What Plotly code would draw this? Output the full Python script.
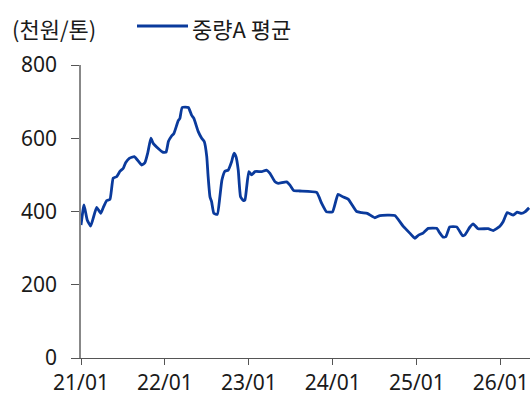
import plotly.graph_objects as go

# ---- data ----
dates = [
    "2021-01-01", "2021-01-14", "2021-01-28", "2021-02-12", "2021-03-10", "2021-03-28",
    "2021-04-08", "2021-04-23", "2021-05-07", "2021-05-21", "2021-06-05", "2021-06-20",
    "2021-07-04", "2021-07-14", "2021-07-30", "2021-08-21", "2021-09-22", "2021-10-06",
    "2021-10-18", "2021-11-01", "2021-11-11", "2021-12-03", "2021-12-22", "2022-01-06",
    "2022-01-16", "2022-01-30", "2022-02-09", "2022-02-28", "2022-03-07", "2022-03-17",
    "2022-04-13", "2022-04-27", "2022-05-07", "2022-05-26", "2022-06-10", "2022-06-21",
    "2022-07-02", "2022-07-08", "2022-07-16", "2022-07-23", "2022-08-02", "2022-08-17",
    "2022-08-28", "2022-09-06", "2022-09-19", "2022-10-03", "2022-10-18", "2022-10-28",
    "2022-11-06", "2022-11-16", "2022-11-26", "2022-12-08", "2022-12-15", "2022-12-22",
    "2023-01-01", "2023-01-13", "2023-01-28", "2023-02-26", "2023-03-19", "2023-04-03",
    "2023-04-25", "2023-05-09", "2023-06-14", "2023-06-29", "2023-07-16", "2023-08-11",
    "2023-10-23", "2023-11-14", "2023-12-05", "2023-12-31", "2024-01-24", "2024-02-14",
    "2024-03-08", "2024-04-14", "2024-05-06", "2024-05-30", "2024-07-02", "2024-07-24",
    "2024-09-27", "2024-11-02", "2024-12-01", "2024-12-23", "2025-01-07", "2025-01-28",
    "2025-02-19", "2025-03-28", "2025-04-11", "2025-04-25", "2025-05-07", "2025-05-24",
    "2025-06-23", "2025-07-19", "2025-07-29", "2025-08-19", "2025-09-03", "2025-09-24",
    "2025-11-07", "2025-11-29", "2025-12-28", "2026-01-11", "2026-01-29", "2026-02-24",
    "2026-03-13", "2026-04-01", "2026-04-16", "2026-05-04",
]
avg_price = [
    363, 418, 377, 360, 411, 395,
    411, 430, 433, 491, 495, 510,
    518, 533, 545, 550, 527, 533,
    559, 600, 586, 572, 562, 562,
    591, 606, 613, 648, 654, 684,
    684, 663, 654, 618, 600, 591,
    550, 495, 440, 427, 395, 392,
    440, 486, 510, 513, 536, 559,
    550, 513, 440, 430, 431, 463,
    509, 500, 509, 509, 513, 504,
    481, 477, 481, 472, 457, 456,
    452, 422, 399, 399, 447, 440,
    434, 400, 397, 395, 383, 389,
    389, 360, 341, 327, 335, 341,
    354, 354, 341, 330, 331, 358,
    358, 334, 336, 357, 366, 353,
    353, 348, 360, 372, 397, 390,
    398, 395, 399, 410,
]
series_name = "중량A 평균"
unit_label = "(천원/톤)"
x_tick_vals = ["2021-01-01", "2022-01-01", "2023-01-01", "2024-01-01", "2025-01-01", "2026-01-01"]
x_tick_text = ["21/01", "22/01", "23/01", "24/01", "25/01", "26/01"]
y_tick_vals = [0, 200, 400, 600, 800]

LINE_COLOR = "#0a3a9c"
FONT = "Noto Sans, Noto Sans CJK KR, sans-serif"
KFONT = "Noto Sans CJK KR, Noto Sans, sans-serif"

fig = go.Figure()
fig.add_trace(go.Scatter(
    x=dates, y=avg_price, mode="lines", name=series_name,
    line=dict(color=LINE_COLOR, width=2.8, shape="spline", smoothing=0.4),
    showlegend=False,
))

fig.update_layout(
    width=532, height=404,
    margin=dict(l=81, r=2, t=65, b=46),
    paper_bgcolor="white", plot_bgcolor="white",
    font=dict(family=FONT, size=21, color="#1a1a1a"),
    xaxis=dict(
        type="date", range=["2021-01-01", "2026-05-08"],
        tickvals=x_tick_vals, ticktext=x_tick_text,
        ticks="outside", ticklen=6, tickcolor="#555555", tickwidth=1,
        showline=True, linecolor="#555555", linewidth=1,
        showgrid=False, zeroline=False, automargin=False,
        tickfont=dict(size=21, family=FONT, color="#1a1a1a"),
    ),
    yaxis=dict(
        range=[0, 800], tickvals=y_tick_vals,
        ticks="outside", ticklen=8, tickcolor="#555555", tickwidth=1,
        showline=True, linecolor="#888888", linewidth=1.5,
        showgrid=False, zeroline=False, automargin=False,
        tickfont=dict(size=21, family=FONT, color="#1a1a1a"),
        ticklabelstandoff=10,
    ),
    showlegend=False,
)

# unit label
fig.add_annotation(
    text=unit_label, xref="paper", yref="paper",
    x=(10 - 81) / 449, y=1 + 37 / 293, xanchor="left", yanchor="middle",
    showarrow=False, font=dict(size=22, family=KFONT, color="#1a1a1a"),
)
# legend (line sample + label)
fig.add_shape(
    type="line", xref="paper", yref="paper",
    x0=(137 - 81) / 449, x1=(188 - 81) / 449,
    y0=1 + 39 / 293, y1=1 + 39 / 293,
    line=dict(color=LINE_COLOR, width=3),
)
fig.add_annotation(
    text=series_name, xref="paper", yref="paper",
    x=(190 - 81) / 449, y=1 + 37 / 293, xanchor="left", yanchor="middle",
    showarrow=False, font=dict(size=22, family=KFONT, color="#1a1a1a"),
)

fig.write_html(
    "out.html",
    config={"displayModeBar": False},
    post_script="document.body.style.margin='0px';document.body.style.overflow='hidden';",
)
